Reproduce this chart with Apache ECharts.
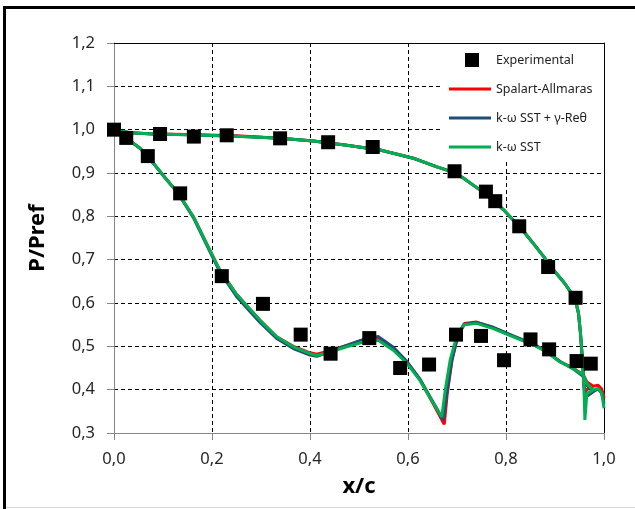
<!DOCTYPE html>
<html>
<head>
<meta charset="utf-8">
<script src="https://cdn.jsdelivr.net/npm/echarts@6/dist/echarts.min.js"></script>
<style>
html,body{margin:0;padding:0;background:#fff;}
#chart{width:635px;height:509px;}
</style>
</head>
<body>
<div id="chart"></div>
<script>
// ---- Data ----
var seriesNames = ['Experimental', 'Spalart-Allmaras', 'k-ω SST + γ-Reθ', 'k-ω SST'];
var xTicks = [0.0, 0.2, 0.4, 0.6, 0.8, 1.0];
var yTicks = [0.3, 0.4, 0.5, 0.6, 0.7, 0.8, 0.9, 1.0, 1.1, 1.2];

var expX = [0.000, 0.025, 0.069, 0.135, 0.220, 0.304, 0.094, 0.163, 0.230, 0.339, 0.437, 0.528, 0.695, 0.759, 0.778, 0.827, 0.886, 0.942, 0.381, 0.442, 0.521, 0.584, 0.643, 0.698, 0.749, 0.796, 0.850, 0.888, 0.944, 0.973];
var expY = [1.000, 0.981, 0.939, 0.853, 0.662, 0.598, 0.990, 0.984, 0.987, 0.980, 0.971, 0.960, 0.904, 0.857, 0.835, 0.777, 0.683, 0.612, 0.527, 0.483, 0.519, 0.450, 0.458, 0.527, 0.524, 0.468, 0.516, 0.493, 0.466, 0.460];

// k-w SST (green): trailing-edge wiggle -> upper surface -> leading edge -> lower surface
var sstX = [1.000, 0.998, 0.995, 0.988, 0.978, 0.965, 0.961, 0.959, 0.956, 0.952, 0.948, 0.941, 0.920, 0.897, 0.877, 0.856, 0.836, 0.815, 0.795, 0.774, 0.753, 0.733, 0.712, 0.692, 0.659, 0.611, 0.543, 0.475, 0.407, 0.339, 0.250, 0.150, 0.080, 0.033, 0.010, 0.000,
            0.010, 0.026, 0.053, 0.070, 0.100, 0.131, 0.162, 0.189, 0.216, 0.250, 0.278, 0.298, 0.332, 0.366, 0.400, 0.414, 0.441, 0.475, 0.509, 0.539, 0.570, 0.597, 0.624, 0.652, 0.669, 0.676, 0.686, 0.699, 0.713, 0.740, 0.774, 0.815, 0.856, 0.883, 0.910, 0.937, 0.958, 0.965, 0.978];
var sstY = [0.357, 0.372, 0.393, 0.403, 0.399, 0.391, 0.330, 0.406, 0.468, 0.530, 0.576, 0.610, 0.645, 0.676, 0.707, 0.737, 0.765, 0.791, 0.815, 0.837, 0.856, 0.872, 0.889, 0.902, 0.914, 0.934, 0.953, 0.964, 0.974, 0.980, 0.985, 0.988, 0.990, 0.993, 0.997, 1.000,
            0.992, 0.980, 0.957, 0.937, 0.895, 0.853, 0.799, 0.737, 0.676, 0.620, 0.585, 0.560, 0.522, 0.499, 0.483, 0.479, 0.487, 0.499, 0.510, 0.514, 0.491, 0.462, 0.422, 0.368, 0.337, 0.399, 0.468, 0.522, 0.549, 0.553, 0.541, 0.522, 0.503, 0.487, 0.464, 0.449, 0.433, 0.414, 0.399];

// Spalart-Allmaras (red)
var saX = [1.000, 0.998, 0.995, 0.988, 0.978, 0.965, 0.962, 0.959, 0.956, 0.952, 0.948, 0.941, 0.920, 0.897, 0.877, 0.856, 0.836, 0.815, 0.795, 0.774, 0.753, 0.733, 0.712, 0.692, 0.659, 0.611, 0.543, 0.475, 0.407, 0.339, 0.250, 0.150, 0.080, 0.033, 0.010, 0.000,
           0.010, 0.026, 0.053, 0.070, 0.100, 0.131, 0.162, 0.189, 0.216, 0.250, 0.278, 0.298, 0.332, 0.366, 0.400, 0.414, 0.441, 0.475, 0.509, 0.539, 0.570, 0.597, 0.624, 0.652, 0.674, 0.680, 0.690, 0.702, 0.715, 0.740, 0.774, 0.815, 0.856, 0.883, 0.910, 0.937, 0.958, 0.965, 0.978];
var saY = [0.380, 0.392, 0.402, 0.410, 0.408, 0.400, 0.395, 0.410, 0.468, 0.530, 0.576, 0.610, 0.645, 0.676, 0.707, 0.737, 0.765, 0.791, 0.815, 0.837, 0.856, 0.872, 0.889, 0.902, 0.914, 0.934, 0.953, 0.964, 0.974, 0.980, 0.986, 0.989, 0.990, 0.993, 0.997, 1.000,
           0.992, 0.980, 0.957, 0.937, 0.895, 0.853, 0.799, 0.737, 0.676, 0.620, 0.585, 0.560, 0.522, 0.500, 0.485, 0.482, 0.490, 0.502, 0.515, 0.520, 0.496, 0.465, 0.424, 0.366, 0.320, 0.390, 0.470, 0.525, 0.553, 0.556, 0.543, 0.523, 0.504, 0.488, 0.465, 0.450, 0.434, 0.418, 0.408];

// k-w SST + gamma-Re_theta (dark blue)
var trX = [1.000, 0.998, 0.995, 0.988, 0.978, 0.965, 0.962, 0.959, 0.956, 0.952, 0.948, 0.941, 0.920, 0.897, 0.877, 0.856, 0.836, 0.815, 0.795, 0.774, 0.753, 0.733, 0.712, 0.692, 0.659, 0.611, 0.543, 0.475, 0.407, 0.339, 0.250, 0.150, 0.080, 0.033, 0.010, 0.000,
           0.010, 0.026, 0.053, 0.070, 0.100, 0.131, 0.162, 0.189, 0.216, 0.250, 0.278, 0.298, 0.332, 0.366, 0.400, 0.414, 0.441, 0.475, 0.509, 0.539, 0.570, 0.597, 0.624, 0.652, 0.672, 0.679, 0.689, 0.701, 0.715, 0.740, 0.774, 0.815, 0.856, 0.883, 0.910, 0.937, 0.958, 0.965, 0.978];
var trY = [0.368, 0.380, 0.392, 0.402, 0.395, 0.385, 0.380, 0.408, 0.468, 0.530, 0.576, 0.610, 0.645, 0.676, 0.707, 0.737, 0.765, 0.791, 0.815, 0.837, 0.856, 0.872, 0.889, 0.902, 0.914, 0.934, 0.953, 0.964, 0.974, 0.980, 0.985, 0.988, 0.990, 0.993, 0.997, 1.000,
           0.992, 0.980, 0.957, 0.937, 0.895, 0.853, 0.797, 0.734, 0.672, 0.615, 0.580, 0.555, 0.518, 0.495, 0.480, 0.477, 0.488, 0.502, 0.516, 0.523, 0.498, 0.466, 0.425, 0.370, 0.330, 0.390, 0.465, 0.522, 0.551, 0.555, 0.544, 0.524, 0.505, 0.488, 0.465, 0.448, 0.430, 0.410, 0.395];

function zip(xs, ys) { return xs.map(function (x, i) { return [x, ys[i]]; }); }
function comma(v) { return v.toFixed(1).replace('.', ','); }

var FONT = 'Noto Sans';
var chart = echarts.init(document.getElementById('chart'), null, { renderer: 'canvas' });

var option = {
  backgroundColor: '#ffffff',
  animation: false,
  textStyle: { fontFamily: FONT },
  grid: { left: 114, right: 31, top: 43, bottom: 76, containLabel: false },
  graphic: [
    { type: 'rect', z: 1, shape: { x: 440, y: 44, width: 163, height: 116 }, style: { fill: '#ffffff' } },
    { type: 'rect', z: 10, shape: { x: 3, y: 6, width: 632, height: 3 }, style: { fill: '#000000' } },
    { type: 'rect', z: 10, shape: { x: 3, y: 6, width: 3, height: 503 }, style: { fill: '#000000' } },
    { type: 'rect', z: 10, shape: { x: 6, y: 507, width: 629, height: 1 }, style: { fill: '#d9d9d9' } }
  ],
  legend: [
    {
      orient: 'vertical', left: 465, top: 53, padding: 0,
      itemWidth: 14, itemHeight: 14,
      data: [{ name: seriesNames[0], icon: 'rect', itemStyle: { color: '#000', opacity: 1 } }],
      textStyle: { fontFamily: FONT, fontSize: 12.5, color: '#222', padding: [0, 0, 0, 12] }
    },
    {
      orient: 'vertical', left: 449, top: 82, padding: 0,
      itemWidth: 42, itemHeight: 3, itemGap: 15,
      data: [
        { name: seriesNames[1], icon: 'rect' },
        { name: seriesNames[2], icon: 'rect' },
        { name: seriesNames[3], icon: 'rect' }
      ],
      textStyle: { fontFamily: FONT, fontSize: 12.5, lineHeight: 14, color: '#222' }
    }
  ],
  xAxis: [
    {
      type: 'value', min: xTicks[0], max: xTicks[xTicks.length - 1], interval: 0.2,
      name: 'x/c', nameLocation: 'middle', nameGap: 43,
      nameTextStyle: { fontFamily: FONT, fontSize: 22, fontWeight: 'bold', color: '#000' },
      axisLine: { show: true, onZero: false, lineStyle: { color: '#868686', width: 1 } },
      axisTick: { show: true, inside: false, length: 7, lineStyle: { color: '#868686' } },
      axisLabel: { margin: 18, fontSize: 16.5, color: '#262626', formatter: comma },
      splitLine: { show: true, showMinLine: false, showMaxLine: false, lineStyle: { color: '#000', type: [4, 3], width: 1 } }
    },
    {
      type: 'value', position: 'top', min: 0, max: 1,
      axisLine: { show: true, onZero: false, lineStyle: { color: '#000', width: 1 } },
      axisTick: { show: false }, axisLabel: { show: false }, splitLine: { show: false }
    }
  ],
  yAxis: [
    {
      type: 'value', min: yTicks[0], max: yTicks[yTicks.length - 1], interval: 0.1,
      name: 'P/Pref', nameLocation: 'middle', nameGap: 65, nameRotate: 90,
      nameTextStyle: { fontFamily: FONT, fontSize: 22, fontWeight: 'bold', color: '#000' },
      axisLine: { show: true, onZero: false, lineStyle: { color: '#868686', width: 1 } },
      axisTick: { show: true, inside: false, length: 7, lineStyle: { color: '#868686' } },
      axisLabel: { margin: 19, fontSize: 16.5, color: '#262626', formatter: comma },
      splitLine: { show: true, showMinLine: false, showMaxLine: false, lineStyle: { color: '#000', type: [4, 3], width: 1 } }
    },
    {
      type: 'value', position: 'right', min: 0.3, max: 1.2,
      axisLine: { show: true, onZero: false, lineStyle: { color: '#000', width: 1 } },
      axisTick: { show: false }, axisLabel: { show: false }, splitLine: { show: false }
    }
  ],
  series: [
    {
      name: seriesNames[1], type: 'line', xAxisIndex: 0, yAxisIndex: 0,
      data: zip(saX, saY), symbol: 'none', showSymbol: false,
      lineStyle: { color: '#ff0000', width: 3 }, itemStyle: { color: '#ff0000' }
    },
    {
      name: seriesNames[2], type: 'line', xAxisIndex: 0, yAxisIndex: 0,
      data: zip(trX, trY), symbol: 'none', showSymbol: false,
      lineStyle: { color: '#1f4e79', width: 3 }, itemStyle: { color: '#1f4e79' }
    },
    {
      name: seriesNames[3], type: 'line', xAxisIndex: 0, yAxisIndex: 0,
      data: zip(sstX, sstY), symbol: 'none', showSymbol: false,
      lineStyle: { color: '#00b050', width: 3 }, itemStyle: { color: '#00b050' }
    },
    {
      name: seriesNames[0], type: 'scatter', xAxisIndex: 0, yAxisIndex: 0,
      data: zip(expX, expY), symbol: 'rect', symbolSize: 14,
      itemStyle: { color: '#000000', opacity: 1 }, z: 5
    }
  ]
};
chart.setOption(option);
</script>
</body>
</html>
